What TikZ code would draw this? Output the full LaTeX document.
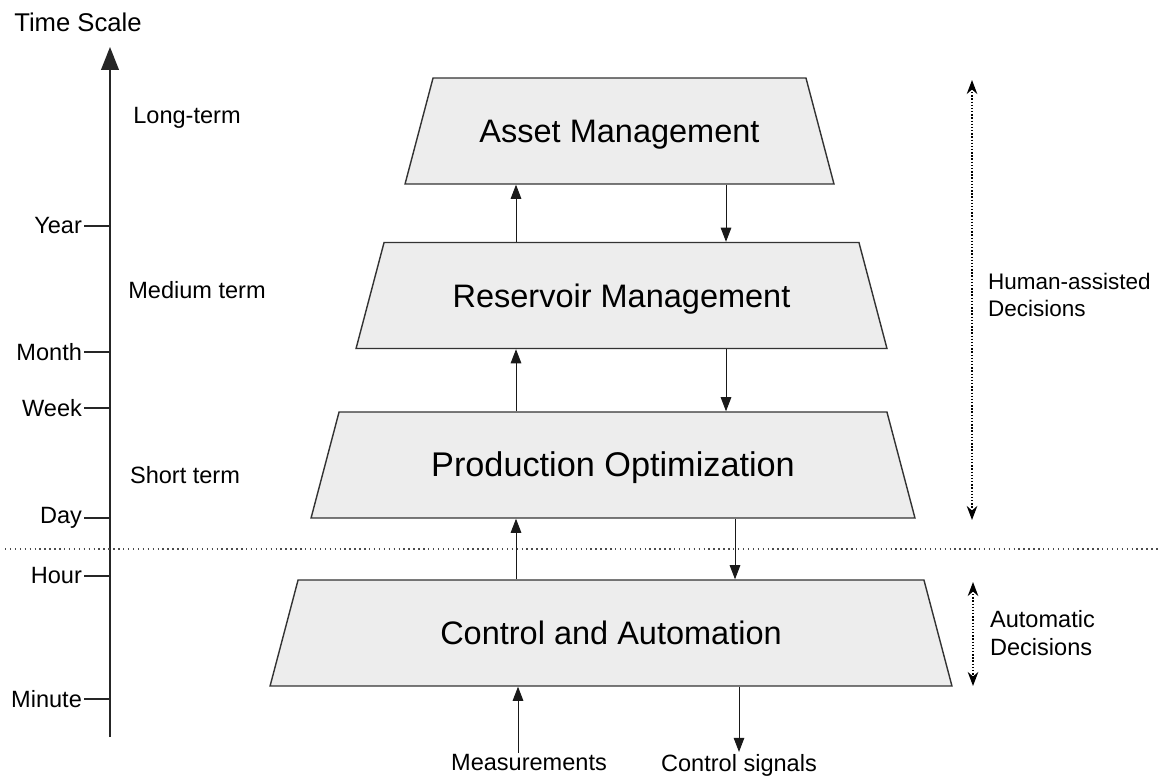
\documentclass[tikz,border=0pt]{standalone}
\usepackage{fontspec}
\setmainfont{Liberation Sans}
\usetikzlibrary{shapes.geometric, arrows.meta, positioning, calc}

\begin{document}
\begin{tikzpicture}[
    x=0.02cm, y=-0.02cm,
    level/.style={trapezium, trapezium angle=75.2, trapezium stretches body, draw=black!80, fill=black!7, line width=0.8pt, text height=1.06cm+6.6pt, text depth=1.06cm-6.6pt, inner xsep=0pt, inner ysep=0pt, font=\fontsize{18.5}{22}\selectfont},
    lbl/.style={font=\fontsize{13.4}{16}\selectfont, inner sep=1pt},
    flow/.style={-{Triangle[length=8pt, width=6pt]}, line width=0.55pt, black!90},
    span/.style={{Stealth[length=8pt, width=6pt]}-{Stealth[length=8pt, width=6pt]}, densely dotted, line width=0.8pt}
]
    \useasboundingbox (0,0) rectangle (1158,776);

    % time axis with ticks
    \node (tscale) [lbl, font=\fontsize{14.6}{17}\selectfont] at (78,22) {Time Scale};
    \coordinate (axbot) at (110,737);
    \coordinate (axtop) at (110,47);
    \draw[line width=1.1pt, black!85, -{Triangle[length=13pt, width=10pt]}] (axbot) -- (axtop);
    \foreach \y/\t/\n in {226/Year/year, 352/Month/month, 408/Week/week, 518/Day/day, 576/Hour/hour, 699/Minute/minute} {
        \node (\n) [lbl, anchor=east] at (84,\y) {\t};
        \draw[line width=0.6pt, black!85] (\n.east) -- (\n.east -| axbot);
    }
    \node (lterm) [lbl] at (187,118) {Long-term};
    \node (mterm) [lbl] at (197,290) {Medium term};
    \node (sterm) [lbl] at (185,475) {Short term};

    % boundary between human and automatic levels
    \draw[dotted, line width=0.8pt, black!70] (5,549) -- (1158,549);

    % the four levels
    \node (asset) [level, minimum width=8.58cm] at (619.5,131) {Asset Management};
    \node (resv) [level, minimum width=10.62cm] at (621.5,295.5) {Reservoir Management};
    \node (prod) [level, minimum width=12.08cm, font=\fontsize{19.5}{23}\selectfont] at (613,465) {Production Optimization};
    \node (ctrl) [level, minimum width=13.64cm] at (611,633) {Control and Automation};

    \coordinate (upx) at (516,0);
    \coordinate (dnx) at (726,0);
    \coordinate (dnx2) at (735,0);
    \coordinate (upm) at (518,0);
    \draw[flow] (resv.north -| upx) -- (asset.south -| upx);
    \draw[flow] (asset.south -| dnx) -- (resv.north -| dnx);
    \draw[flow] (prod.north -| upx) -- (resv.south -| upx);
    \draw[flow] (resv.south -| dnx) -- (prod.north -| dnx);
    \draw[flow] (ctrl.north -| upx) -- (prod.south -| upx);
    \draw[flow] (prod.south -| dnx2) -- (ctrl.north -| dnx2);

    % plant signals
    \node (meas) [lbl] at (529,763) {Measurements};
    \node (sig) [lbl] at (739,765) {Control signals};
    \draw[flow] (meas.north -| upm) -- (ctrl.south -| upm);
    \draw[flow] (ctrl.south -| sig.north) -- (sig.north);

    % decision ranges
    \coordinate (htop) at (972,80);
    \coordinate (hbot) at (972,520);
    \coordinate (atop) at (973,582);
    \coordinate (abot) at (973,686);
    \draw[span] (htop) -- (hbot);
    \draw[span] (atop) -- (abot);
    \node (human) [lbl, anchor=west, align=left, font=\fontsize{12.8}{15.5}\selectfont] at (986,295) {Human-assisted\\Decisions};
    \node (auto) [lbl, anchor=west, align=left] at (988,633) {Automatic\\Decisions};
\end{tikzpicture}
\end{document}
